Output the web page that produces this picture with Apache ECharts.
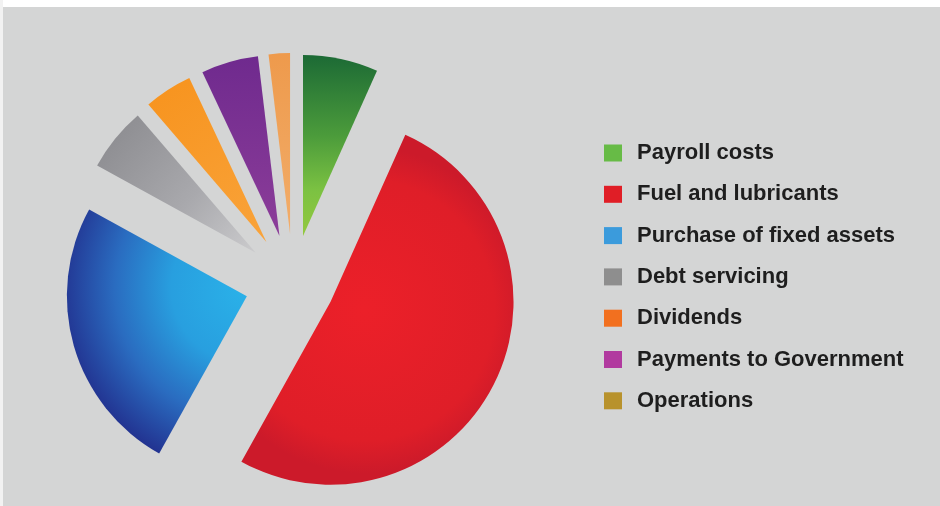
<!DOCTYPE html>
<html>
<head>
<meta charset="utf-8">
<script src="https://cdn.jsdelivr.net/npm/echarts@6/dist/echarts.min.js"></script>
<style>
html,body{margin:0;padding:0;background:#ffffff;}
#chart{width:940px;height:506px;}
</style>
</head>
<body>
<div id="chart"></div>
<script>
const categories = ['Payroll costs', 'Fuel and lubricants', 'Purchase of fixed assets', 'Debt servicing', 'Dividends', 'Payments to Government', 'Operations'];
const values = [6.7, 51.4, 24.9, 5.7, 4.3, 5.1, 1.9];

// styles
const legendColors = ['#67bb46', '#e01e26', '#3b9bdc', '#8e8e8e', '#f2701f', '#b13a9f', '#b8922c'];
const explode = [48, 42, 48, 48, 49, 49, 49];
const radii = [181, 183, 180, 181, 181, 181, 181];
const grad = [
  {type:'linear', x:0, y:0, x2:0, y2:1, colorStops:[{offset:0,color:'#1c6a35'},{offset:0.45,color:'#4c9c3b'},{offset:0.75,color:'#7cc242'},{offset:1,color:'#93c83f'}]},
  {type:'radial', x:0.45, y:0.5, r:0.6, colorStops:[{offset:0,color:'#ec2029'},{offset:0.8,color:'#df1e28'},{offset:1,color:'#cc1a2a'}]},
  {type:'radial', x:1, y:0.32, r:1.05, colorStops:[{offset:0,color:'#2ab2e9'},{offset:0.4,color:'#289fdf'},{offset:0.7,color:'#2a6cc0'},{offset:1,color:'#22318f'}]},
  {type:'linear', x:0, y:0, x2:1, y2:1, colorStops:[{offset:0,color:'#88888c'},{offset:0.6,color:'#a9a9ad'},{offset:1,color:'#cbcbcd'}]},
  {type:'linear', x:0, y:0, x2:1, y2:1, colorStops:[{offset:0,color:'#f7931d'},{offset:1,color:'#f9a33a'}]},
  {type:'linear', x:0, y:0, x2:0, y2:1, colorStops:[{offset:0,color:'#6f2a8e'},{offset:1,color:'#8c3d99'}]},
  {type:'linear', x:0, y:0, x2:0, y2:1, colorStops:[{offset:0,color:'#ee9a4c'},{offset:1,color:'#f2ad6a'}]}
];

const chart = echarts.init(document.getElementById('chart'), null, {renderer:'canvas'});

const series = categories.map((cat, i) => ({
  type: 'pie',
  center: [293, 283],
  radius: radii[i],
  startAngle: 90,
  clockwise: true,
  selectedMode: 'multiple',
  selectedOffset: explode[i],
  animation: false,
  silent: true,
  legendHoverLink: false,
  label: {show: false},
  labelLine: {show: false},
  emphasis: {disabled: true},
  select: {itemStyle: {borderWidth: 0}},
  data: categories.map((n, j) => ({
    name: n,
    value: values[j],
    selected: j === i,
    itemStyle: j === i ? {color: grad[j]} : {color: 'rgba(0,0,0,0)'}
  }))
}));

chart.setOption({
  backgroundColor: '#d4d5d5',
  animation: false,
  graphic: [
    {type:'rect', left:0, top:0, shape:{width:940, height:7}, style:{fill:'#ffffff'}, silent:true},
    {type:'rect', left:0, top:0, shape:{width:3, height:506}, style:{fill:'#f2f2f2'}, silent:true}
  ],
  legend: {
    orient: 'vertical',
    left: 604,
    top: 142,
    padding: 0,
    itemWidth: 18,
    itemHeight: 17,
    itemGap: 19.3,
    icon: 'rect',
    selectedMode: false,
    data: categories.map((n, j) => ({name: n, itemStyle: {color: legendColors[j]}})),
    textStyle: {fontFamily: 'Liberation Sans', fontWeight: 'bold', fontSize: 22, color: '#1e1e1e', padding: [0,0,0,10], lineHeight: 22}
  },
  series: series
});
</script>
</body>
</html>
